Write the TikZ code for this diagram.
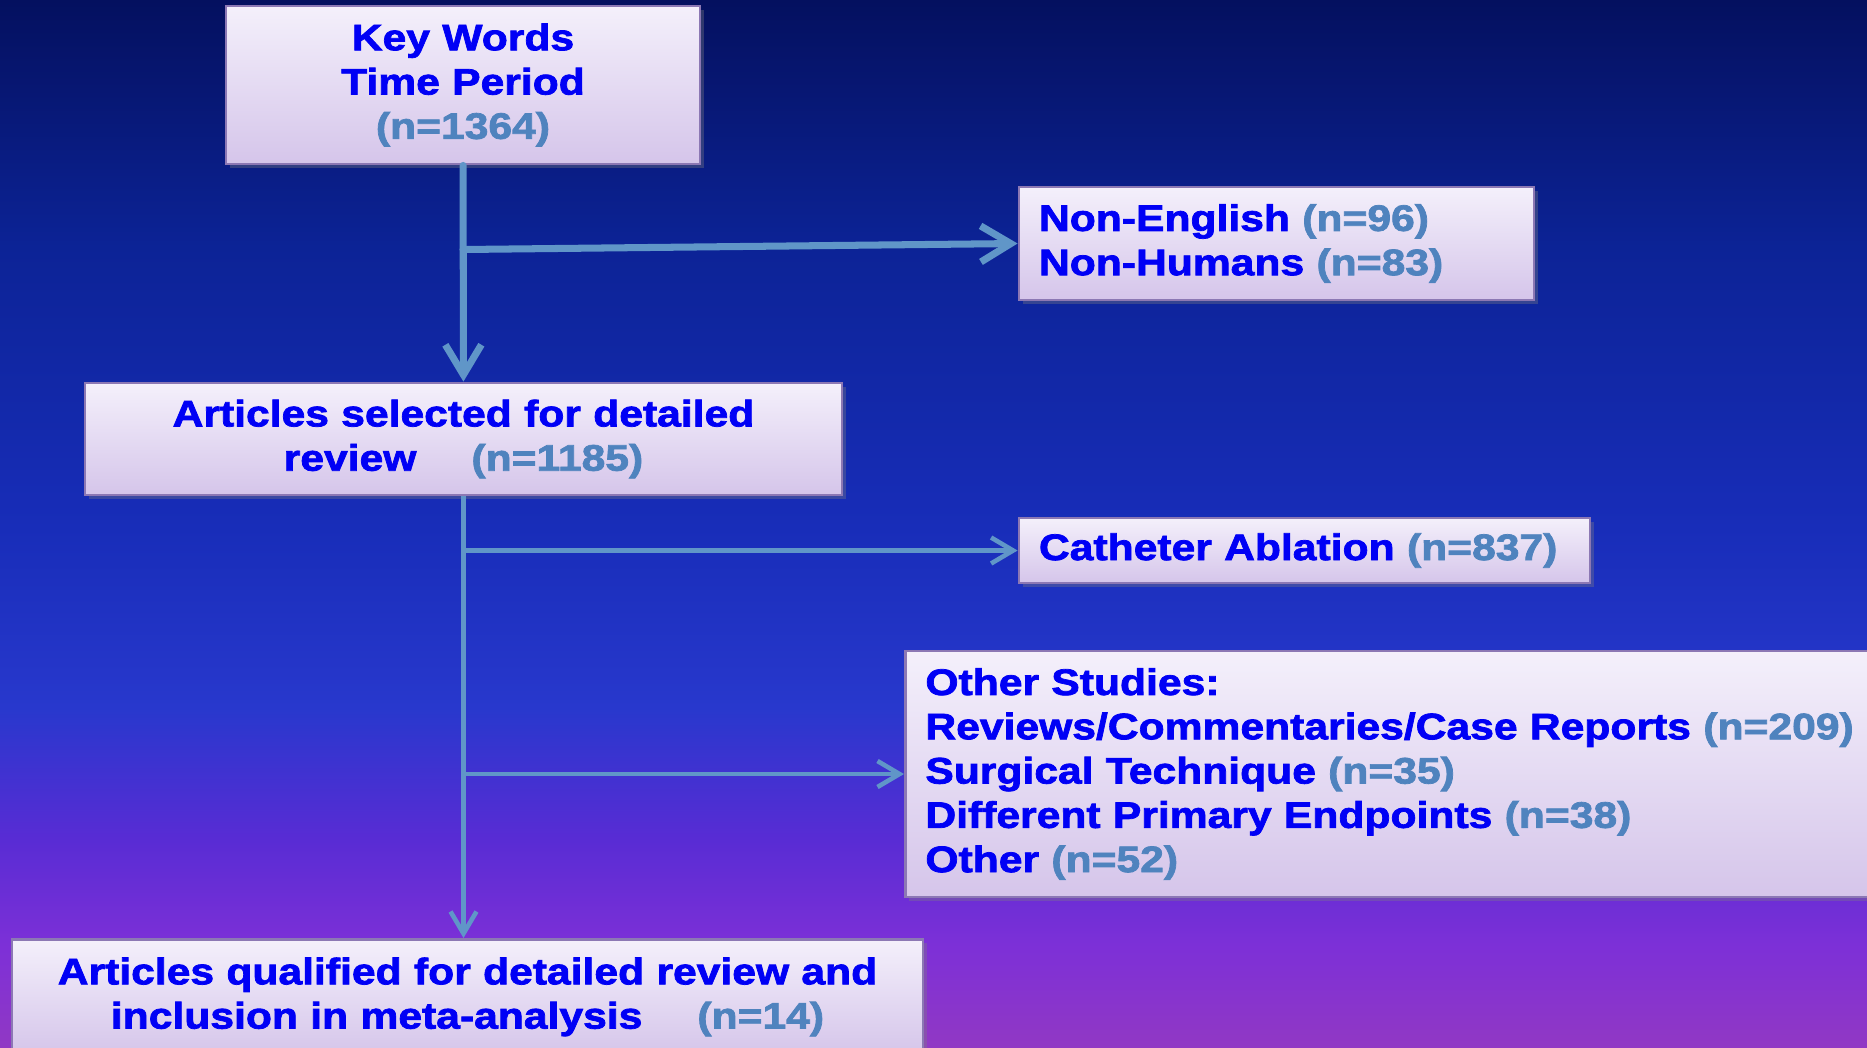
\documentclass[tikz,border=0pt]{standalone}
\usepackage{fontspec}
\newfontfamily\boxfont[FakeStretch=1.155, FakeBold=2]{Liberation Sans}
\usetikzlibrary{positioning,arrows.meta,shadows}

\definecolor{textblue}{RGB}{0,0,245}
\definecolor{ncol}{RGB}{79,131,190}
\definecolor{arrowcol}{RGB}{96,150,200}
\definecolor{boxtop}{RGB}{244,240,251}
\definecolor{boxbot}{RGB}{213,197,234}
\definecolor{boxline}{RGB}{140,120,180}
\definecolor{bgA}{RGB}{145,56,196}
\definecolor{bgB}{RGB}{125,48,215}
\definecolor{bgC}{RGB}{88,44,212}
\definecolor{bgD}{RGB}{40,56,205}
\definecolor{bgE}{RGB}{24,45,185}
\definecolor{bgF}{RGB}{12,35,150}
\definecolor{bgG}{RGB}{4,16,95}
% stops kept inside 25bp..75bp, the part pgf fits to the path
\pgfdeclareverticalshading{bgshade}{100bp}{color(0bp)=(bgA); color(25bp)=(bgA); color(29.8bp)=(bgB); color(35bp)=(bgC); color(41.2bp)=(bgD); color(49.8bp)=(bgE); color(63.2bp)=(bgF); color(75bp)=(bgG); color(100bp)=(bgG)}

\newcommand{\nval}[1]{\textcolor{ncol}{#1}}

\begin{document}
\begin{tikzpicture}[
  box/.style={draw=boxline, line width=0.8pt, top color=boxtop, bottom color=boxbot,
    drop shadow={opacity=0.35, shadow xshift=0.04cm, shadow yshift=-0.04cm},
    text=textblue, font=\boxfont\bfseries\fontsize{10.5}{12.6}\selectfont,
    inner xsep=0.2cm, inner ysep=0cm},
  bigarrow/.style={draw=arrowcol, line width=2pt, line cap=round, -{Straight Barb[length=0.3cm, width=0.36cm]}},
  smallarrow/.style={draw=arrowcol, line width=1.3pt, -{Straight Barb[length=0.22cm, width=0.26cm]}}
]
\clip (0,0) rectangle (18.67,-10.47);
\fill[shading=bgshade] (0,0) rectangle (18.67,-10.47);

\node[box, minimum width=4.74cm, minimum height=1.58cm, text width=4.34cm, align=center] (keys) at (4.63,-0.85) {Key Words\\Time Period\\\nval{(n=1364)}};
\node[box, minimum width=5.15cm, minimum height=1.13cm, text width=4.75cm, align=left] (lang) at (12.765,-2.435) {Non-English \nval{(n=96)}\\Non-Humans \nval{(n=83)}};
\node[box, minimum width=7.57cm, minimum height=1.12cm, text width=7.17cm, align=center] (sel) at (4.635,-4.39) {Articles selected for detailed\\review\hspace{0.55cm}\nval{(n=1185)}};
\node[box, minimum width=5.71cm, minimum height=0.65cm, text width=5.31cm, align=left] (cath) at (13.045,-5.505) {Catheter Ablation \nval{(n=837)}};
\node[box, minimum width=10cm, minimum height=2.46cm, text width=9.6cm, align=left, anchor=west] (other) at (9.04,-7.74) {Other Studies:\\Reviews/Commentaries/Case Reports \nval{(n=209)}\\Surgical Technique \nval{(n=35)}\\Different Primary Endpoints \nval{(n=38)}\\Other \nval{(n=52)}};
\node[box, minimum width=9.11cm, minimum height=1.15cm, text width=8.71cm, align=center, anchor=north] (final) at (4.675,-9.38) {Articles qualified for detailed review and\\inclusion in meta-analysis\hspace{0.55cm}\nval{(n=14)}};

\coordinate[yshift=-0.06cm] (b1) at (keys.south |- lang.west);
\coordinate (b2) at (sel.south |- cath.west);
\coordinate (b3) at (sel.south |- other.west);

\draw[bigarrow] (keys) -- (sel);
\draw[bigarrow] (b1) -- (lang.west);
\draw[smallarrow] (sel) -- (sel.south |- final.north);
\draw[smallarrow] (b2) -- (cath.west);
\draw[smallarrow] (b3) -- (other.west);
\end{tikzpicture}
\end{document}
